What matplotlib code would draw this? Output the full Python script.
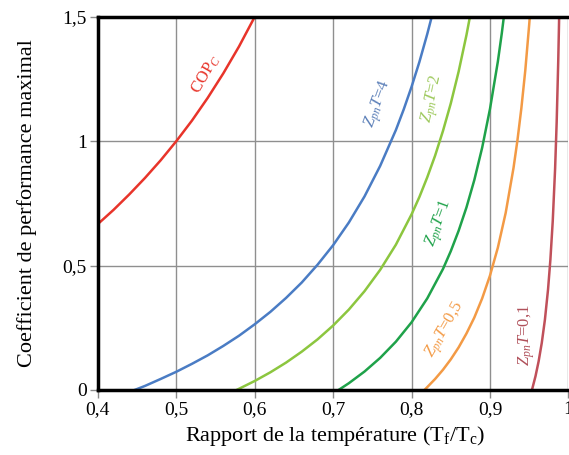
import matplotlib
matplotlib.use("Agg")
import matplotlib.pyplot as plt

plt.rcParams['font.family'] = ['Liberation Serif', 'DejaVu Serif']
plt.rcParams['mathtext.fontset'] = 'custom'
plt.rcParams['mathtext.rm'] = 'Liberation Serif'
plt.rcParams['mathtext.it'] = 'Liberation Serif:italic'

# values (ratio Tf/Tc -> max COP)
x_cop = [0.40, 0.42, 0.44, 0.46, 0.48, 0.50, 0.52, 0.54, 0.56, 0.58, 0.60]
y_cop = [0.667, 0.724, 0.786, 0.852, 0.923, 1.000, 1.083, 1.174, 1.273, 1.381, 1.500]

x_zt4 = [0.447, 0.46, 0.48, 0.50, 0.52, 0.54, 0.56, 0.58, 0.60, 0.62, 0.64, 0.66,
         0.68, 0.70, 0.72, 0.74, 0.76, 0.78, 0.79, 0.80, 0.81, 0.82, 0.826]
y_zt4 = [0.0, 0.016, 0.044, 0.073, 0.105, 0.139, 0.177, 0.218, 0.264, 0.314, 0.370, 0.432,
         0.503, 0.582, 0.673, 0.778, 0.901, 1.045, 1.128, 1.219, 1.319, 1.431, 1.504]

x_zt2 = [0.577, 0.60, 0.62, 0.64, 0.66, 0.68, 0.70, 0.72, 0.74, 0.76, 0.78, 0.80,
         0.81, 0.82, 0.83, 0.84, 0.85, 0.86, 0.87, 0.875]
y_zt2 = [0.0, 0.036, 0.071, 0.110, 0.154, 0.203, 0.259, 0.323, 0.397, 0.483, 0.584, 0.706,
         0.776, 0.855, 0.942, 1.041, 1.152, 1.280, 1.427, 1.510]

x_zt1 = [0.707, 0.72, 0.74, 0.76, 0.78, 0.80, 0.82, 0.84, 0.85, 0.86, 0.87, 0.88,
         0.89, 0.90, 0.91, 0.915, 0.92]
y_zt1 = [0.0, 0.027, 0.074, 0.129, 0.194, 0.272, 0.368, 0.486, 0.558, 0.640, 0.734, 0.844,
         0.974, 1.130, 1.320, 1.433, 1.559]

x_zt05 = [0.8165, 0.83, 0.84, 0.85, 0.86, 0.87, 0.88, 0.89, 0.90, 0.91, 0.92, 0.93,
          0.935, 0.94, 0.945, 0.95, 0.952]
y_zt05 = [0.0, 0.044, 0.081, 0.123, 0.171, 0.227, 0.291, 0.368, 0.460, 0.572, 0.712, 0.893,
          1.004, 1.133, 1.285, 1.470, 1.553]

x_zt01 = [0.9535, 0.958, 0.962, 0.966, 0.970, 0.974, 0.977, 0.980, 0.983, 0.985,
          0.987, 0.988, 0.9885]
y_zt01 = [0.0, 0.055, 0.115, 0.189, 0.282, 0.404, 0.524, 0.679, 0.889, 1.076,
          1.321, 1.473, 1.559]

x_ticks = [0.4, 0.5, 0.6, 0.7, 0.8, 0.9, 1.0]
x_ticklabels = ['0,4', '0,5', '0,6', '0,7', '0,8', '0,9', '1']
y_ticks = [0, 0.5, 1, 1.5]
y_ticklabels = ['0', '0,5', '1', '1,5']

fig = plt.figure(figsize=(5.69, 4.55), dpi=100)
ax = fig.add_axes([0.172, 0.143, 0.827, 0.82])

lw = 1.8
ax.plot(x_cop, y_cop, color='#e8342a', lw=lw)
ax.plot(x_zt4, y_zt4, color='#4a7cc4', lw=lw)
ax.plot(x_zt2, y_zt2, color='#8cc63f', lw=lw)
ax.plot(x_zt1, y_zt1, color='#1fa24a', lw=lw)
ax.plot(x_zt05, y_zt05, color='#f39a45', lw=lw)
ax.plot(x_zt01, y_zt01, color='#c0505a', lw=lw)

# curve labels
lab_kw = dict(ha='center', va='center', fontsize=12)
ax.text(0.538, 1.27, 'COP$_C$', color='#e8342a', rotation=60, **lab_kw)
ax.text(0.758, 1.15, '$Z_{pn}T$=4', color='#5b7fb8', rotation=70, **lab_kw)
ax.text(0.828, 1.17, '$Z_{pn}T$=2', color='#9cc85a', rotation=78, **lab_kw)
ax.text(0.836, 0.67, '$Z_{pn}T$=1', color='#1fa24a', rotation=70, **lab_kw)
ax.text(0.843, 0.24, '$Z_{pn}T$=0,5', color='#f39a45', rotation=60, **lab_kw)
ax.text(0.947, 0.22, '$Z_{pn}T$=0,1', color='#b0505a', rotation=90, **lab_kw)

ax.set_xlim(0.4, 1.0)
ax.set_ylim(0, 1.5)
ax.set_xticks(x_ticks)
ax.set_xticklabels(x_ticklabels)
ax.set_yticks(y_ticks)
ax.set_yticklabels(y_ticklabels)
ax.tick_params(axis='both', labelsize=14, length=6, width=1, color='#8a8a8a', pad=2)
ax.grid(True, color='#8f8f8f', lw=1)

for side in ['left', 'bottom', 'top']:
    ax.spines[side].set_linewidth(2.5)
    ax.spines[side].set_color('black')
ax.spines['right'].set_visible(False)

ax.set_xlabel(r'Rapport de la température (T$_\mathrm{f}$/T$_\mathrm{c}$)', fontsize=16)
ax.set_ylabel('Coefficient de performance maximal', fontsize=16)
ax.xaxis.set_label_coords(0.504, -0.09)
ax.yaxis.set_label_coords(-0.13, 0.5)

fig.savefig('out.png', dpi=100)
